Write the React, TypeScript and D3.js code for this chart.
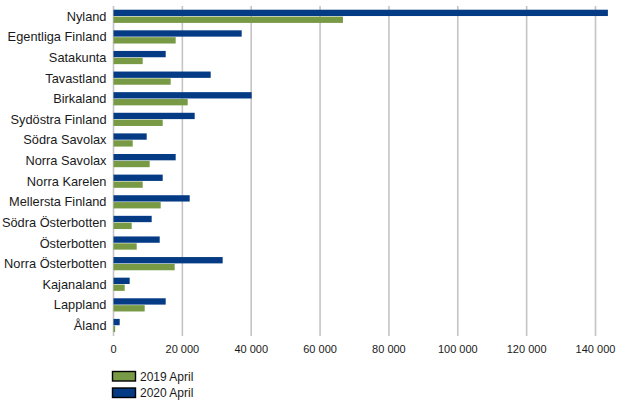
import React from "react";
import * as d3 from "d3";

const regions = [
  "Nyland", "Egentliga Finland", "Satakunta", "Tavastland", "Birkaland",
  "Sydöstra Finland", "Södra Savolax", "Norra Savolax", "Norra Karelen",
  "Mellersta Finland", "Södra Österbotten", "Österbotten", "Norra Österbotten",
  "Kajanaland", "Lappland", "Åland",
];
const april2019 = [66650, 18060, 8480, 16610, 21550, 14290, 5580, 10510, 8480, 13710, 5290, 6740, 17770, 3250, 9060, 480];
const april2020 = [143600, 37230, 15160, 28230, 40130, 23580, 9640, 18060, 14290, 22130, 11090, 13420, 31710, 4700, 15160, 1800];
const xTicks = [0, 20000, 40000, 60000, 80000, 100000, 120000, 140000];
const seriesNames = ["2019 April", "2020 April"];

const W = 617, H = 401;
const green = "#789a45", blue = "#043b84";

export default function App() {
  const x = d3.scaleLinear().domain([0, 140000]).range([113.5, 595.5]);
  const y = d3.scaleBand<string>().domain(regions).range([6, 335.8]).paddingInner(0.36).paddingOuter(0.18);
  const sub = d3.scaleBand<string>().domain(["2020", "2019"]).range([0, y.bandwidth()]).paddingInner(0.08);
  const fmt = (v: number) => d3.format(",")(v).replace(/,/g, " ");
  const step = y.step();

  return (
    <svg width={W} height={H} style={{ position: "absolute", left: 0, top: 0 }} fontFamily="'Liberation Sans', Arial, sans-serif">
      {xTicks.map((t) => (
        <line key={t} x1={x(t)} x2={x(t)} y1={6} y2={336} stroke="#c4c4c4" strokeWidth={1.6} />
      ))}
      {regions.map((r, i) => {
        const by = y(r) as number;
        const c = 6 + step * (i + 0.5);
        return (
          <g key={r}>
            <rect x={x(0)} y={by + (sub("2020") as number)} width={x(april2020[i]) - x(0)} height={sub.bandwidth()} fill={blue} />
            <rect x={x(0)} y={by + (sub("2019") as number)} width={x(april2019[i]) - x(0)} height={sub.bandwidth()} fill={green} />
            <text x={106.5} y={c + 4.5} textAnchor="end" fontSize={12.8} fill="#1a1a1a">{r}</text>
          </g>
        );
      })}
      {xTicks.map((t) => (
        <text key={t} x={x(t)} y={352.5} textAnchor="middle" fontSize={11} fill="#1a1a1a">{fmt(t)}</text>
      ))}
      {seriesNames.map((s, i) => (
        <g key={s} transform={`translate(0, ${i * 16.5})`}>
          <rect x={112.5} y={371.5} width={23} height={9.5} fill={i === 0 ? green : blue} stroke="#000" strokeWidth={1.4} />
          <text x={140} y={380.5} fontSize={12} fill="#1a1a1a">{s}</text>
        </g>
      ))}
    </svg>
  );
}
